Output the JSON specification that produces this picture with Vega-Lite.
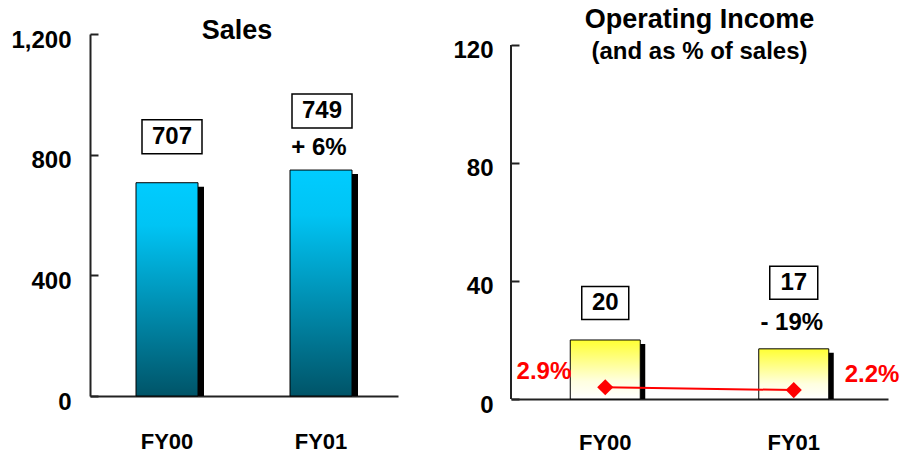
{
  "$schema": "https://vega.github.io/schema/vega-lite/v6.json",
  "padding": {"left": 10, "top": 6, "right": 0, "bottom": 0},
  "spacing": 54,
  "config": {
    "view": {"stroke": null},
    "font": "Liberation Sans",
    "text": {"font": "Liberation Sans", "fontWeight": "bold", "fontSize": 24, "color": "black"},
    "title": {"font": "Liberation Sans", "fontWeight": "bold", "color": "black", "subtitleFont": "Liberation Sans", "subtitleFontWeight": "bold", "subtitleColor": "black"},
    "axis": {"labelFont": "Liberation Sans", "labelFontWeight": "bold", "labelFontSize": 22, "labelColor": "black", "domainColor": "#222", "domainWidth": 2, "tickColor": "#222", "tickWidth": 2, "grid": false, "title": null}
  },
  "hconcat": [
    {
      "width": 308,
      "height": 362,
      "title": {"text": "Sales", "fontSize": 27, "frame": "group", "anchor": "middle", "dx": -7, "offset": -17},
      "data": {"values": [
        {"year": "FY00", "sales": 707, "change": null},
        {"year": "FY01", "sales": 749, "change": "+ 6%"}
      ]},
      "encoding": {
        "x": {"field": "year", "type": "nominal", "scale": {"paddingInner": 0, "paddingOuter": 0},
              "axis": {"labelAngle": 0, "ticks": false, "labelPadding": 35}}
      },
      "layer": [
        {"mark": {"type": "bar", "size": 62, "xOffset": 6, "yOffset": 4, "clip": true, "fill": "black"},
         "encoding": {"y": {"field": "sales", "type": "quantitative", "scale": {"domain": [0, 1200], "nice": false},
                            "axis": {"values": [0, 400, 800, 1200], "format": ",.0f", "labelFontSize": 24, "tickSize": -8, "labelPadding": 27, "labelOffset": 6}}}},
        {"mark": {"type": "bar", "size": 62, "stroke": "black", "strokeWidth": 1,
                  "fill": {"gradient": "linear", "x1": 0, "y1": 0, "x2": 0, "y2": 1,
                           "stops": [{"offset": 0, "color": "#00ccff"}, {"offset": 0.2, "color": "#00c4f4"}, {"offset": 1, "color": "#005468"}]}},
         "encoding": {"y": {"field": "sales", "type": "quantitative"}}},
        {"transform": [{"filter": "datum.year === 'FY00'"}],
         "mark": {"type": "point", "shape": "M-1,-0.567H1V0.567H-1Z", "size": 3600, "filled": true, "fill": "white", "stroke": "black", "strokeWidth": 1.5, "opacity": 1, "yOffset": -46, "xOffset": 5},
         "encoding": {"y": {"field": "sales", "type": "quantitative"}}},
        {"transform": [{"filter": "datum.year === 'FY00'"}],
         "mark": {"type": "text", "yOffset": -46, "xOffset": 5, "baseline": "middle"},
         "encoding": {"y": {"field": "sales", "type": "quantitative"}, "text": {"field": "sales", "type": "quantitative", "format": "d"}}},
        {"transform": [{"filter": "datum.year === 'FY01'"}],
         "mark": {"type": "point", "shape": "M-1,-0.567H1V0.567H-1Z", "size": 3600, "filled": true, "fill": "white", "stroke": "black", "strokeWidth": 1.5, "opacity": 1, "yOffset": -59, "xOffset": 1},
         "encoding": {"y": {"field": "sales", "type": "quantitative"}}},
        {"transform": [{"filter": "datum.year === 'FY01'"}],
         "mark": {"type": "text", "yOffset": -59, "xOffset": 1, "baseline": "middle"},
         "encoding": {"y": {"field": "sales", "type": "quantitative"}, "text": {"field": "sales", "type": "quantitative", "format": "d"}}},
        {"transform": [{"filter": "datum.change != null"}],
         "mark": {"type": "text", "yOffset": -22, "xOffset": -2, "baseline": "middle"},
         "encoding": {"y": {"field": "sales", "type": "quantitative"}, "text": {"field": "change", "type": "nominal"}}}
      ]
    },
    {
      "width": 377,
      "height": 365,
      "title": {"text": "Operating Income", "subtitle": "(and as % of sales)", "fontSize": 27, "subtitleFontSize": 24, "subtitlePadding": 6, "frame": "group", "anchor": "middle", "offset": -31},
      "data": {"values": [
        {"year": "FY00", "income": 20, "pct": 0.029, "change": null},
        {"year": "FY01", "income": 17, "pct": 0.022, "change": "- 19%"}
      ]},
      "encoding": {
        "x": {"field": "year", "type": "nominal", "scale": {"paddingInner": 0, "paddingOuter": 0},
              "axis": {"labelAngle": 0, "ticks": false, "labelPadding": 33}}
      },
      "resolve": {"scale": {"y": "independent"}},
      "layer": [
        {
          "layer": [
            {"mark": {"type": "bar", "size": 70, "xOffset": 5, "yOffset": 4, "clip": true, "fill": "black"},
             "encoding": {"y": {"field": "income", "type": "quantitative", "scale": {"domain": [0, 123.7], "nice": false},
                                "axis": {"values": [0, 40, 80, 120], "domain": false, "labelFontSize": 24, "tickSize": -8, "labelPadding": 26, "labelOffset": 6}}}},
            {"mark": {"type": "rule", "color": "#222", "strokeWidth": 2},
             "encoding": {"x": {"datum": "FY00", "bandPosition": 0}, "y": {"datum": 0}, "y2": {"datum": 120}}},
            {"mark": {"type": "bar", "size": 70, "stroke": "black", "strokeWidth": 1,
                      "fill": {"gradient": "linear", "x1": 0, "y1": 0, "x2": 0, "y2": 1,
                               "stops": [{"offset": 0, "color": "#ffff33"}, {"offset": 0.7, "color": "#ffffe0"}, {"offset": 1, "color": "#ffffff"}]}},
             "encoding": {"y": {"field": "income", "type": "quantitative"}}},
            {"transform": [{"filter": "datum.year === 'FY00'"}],
             "mark": {"type": "point", "shape": "M-1,-0.702H1V0.702H-1Z", "size": 2209, "filled": true, "fill": "white", "stroke": "black", "strokeWidth": 1.5, "opacity": 1, "yOffset": -37},
             "encoding": {"y": {"field": "income", "type": "quantitative"}}},
            {"transform": [{"filter": "datum.year === 'FY00'"}],
             "mark": {"type": "text", "yOffset": -37, "baseline": "middle"},
             "encoding": {"y": {"field": "income", "type": "quantitative"}, "text": {"field": "income", "type": "quantitative", "format": "d"}}},
            {"transform": [{"filter": "datum.year === 'FY01'"}],
             "mark": {"type": "point", "shape": "M-1,-0.6875H1V0.6875H-1Z", "size": 2304, "filled": true, "fill": "white", "stroke": "black", "strokeWidth": 1.5, "opacity": 1, "yOffset": -66},
             "encoding": {"y": {"field": "income", "type": "quantitative"}}},
            {"transform": [{"filter": "datum.year === 'FY01'"}],
             "mark": {"type": "text", "yOffset": -66, "baseline": "middle"},
             "encoding": {"y": {"field": "income", "type": "quantitative"}, "text": {"field": "income", "type": "quantitative", "format": "d"}}},
            {"transform": [{"filter": "datum.change != null"}],
             "mark": {"type": "text", "yOffset": -26, "xOffset": -2, "baseline": "middle"},
             "encoding": {"y": {"field": "income", "type": "quantitative"}, "text": {"field": "change", "type": "nominal"}}}
          ]
        },
        {
          "layer": [
            {"mark": {"type": "line", "color": "#ff0000", "strokeWidth": 2},
             "encoding": {"y": {"field": "pct", "type": "quantitative", "scale": {"domain": [0, 0.9], "nice": false}, "axis": null}}},
            {"mark": {"type": "point", "shape": "diamond", "size": 260, "filled": true, "color": "#ff0000", "opacity": 1},
             "encoding": {"y": {"field": "pct", "type": "quantitative"}}},
            {"transform": [{"filter": "datum.year === 'FY00'"}],
             "mark": {"type": "text", "color": "#ff0000", "align": "right", "baseline": "middle", "dx": -34, "dy": -15},
             "encoding": {"y": {"field": "pct", "type": "quantitative"}, "text": {"field": "pct", "type": "quantitative", "format": ".1%"}}},
            {"transform": [{"filter": "datum.year === 'FY01'"}],
             "mark": {"type": "text", "color": "#ff0000", "align": "left", "baseline": "middle", "dx": 51, "dy": -15},
             "encoding": {"y": {"field": "pct", "type": "quantitative"}, "text": {"field": "pct", "type": "quantitative", "format": ".1%"}}}
          ]
        }
      ]
    }
  ]
}
